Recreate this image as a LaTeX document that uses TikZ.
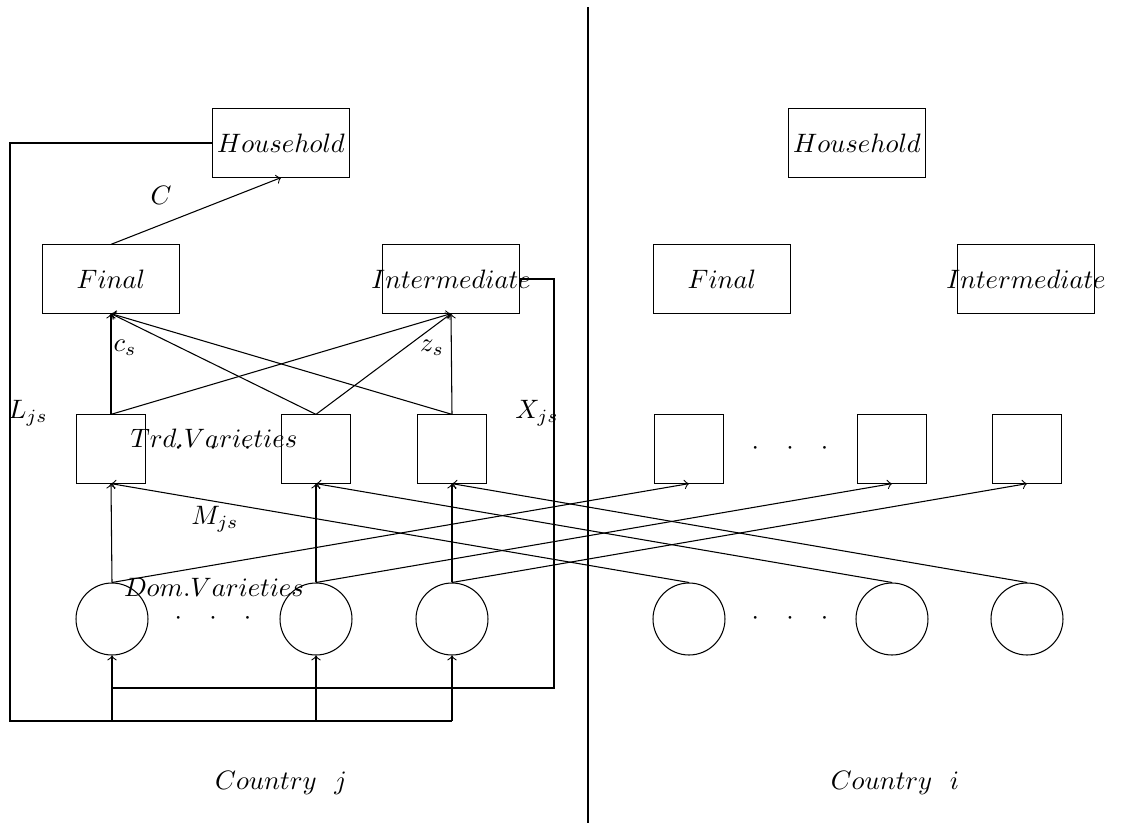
\documentclass[tikz,border=0pt]{standalone}
\newcommand{\threedots}{${\cdot}\hspace{10.2pt}{\cdot}\hspace{10.2pt}{\cdot}$}
\begin{document}
\begin{tikzpicture}[x=0.0132cm,y=-0.0132cm,>=to,
  rbox/.style={draw,minimum width=1.81cm,minimum height=0.9cm,inner sep=0pt},
  sqbox/.style={draw,minimum width=0.9cm,minimum height=0.9cm,inner sep=0pt},
  cbox/.style={draw,circle,minimum size=0.95cm,inner sep=0pt},
  lab/.style={inner sep=0pt}]
\useasboundingbox (0,0) rectangle (1127,825);
% divider
\coordinate (dtop) at (588,7);
\coordinate (dbot) at (588,823);
\draw (dtop) -- (dbot);
% country j
\node[rbox] (hj) at (281,143) {$Household$};
\node[rbox] (fj) at (111,279) {$Final$};
\node[rbox] (ij) at (451,279) {};
\node at (ij) {$Intermediate$};
\node[sqbox] (tj1) at (111,449) {};
\node[sqbox] (tj2) at (316,449) {};
\node[sqbox] (tj3) at (452,449) {};
\node[cbox] (dj1) at (112,619) {};
\node[cbox] (dj2) at (316,619) {};
\node[cbox] (dj3) at (452,619) {};
\node[lab] (tdj) at (213,449) {\threedots};
\node[lab] (ddj) at (213,619) {\threedots};
% country i
\node[rbox] (hi) at (857,143) {$Household$};
\node[rbox] (fi) at (722,279) {$Final$};
\node[rbox] (ii) at (1026,279) {};
\node at (ii) {$Intermediate$};
\node[sqbox] (ti1) at (689,449) {};
\node[sqbox] (ti2) at (892,449) {};
\node[sqbox] (ti3) at (1027,449) {};
\node[cbox] (di1) at (689,619) {};
\node[cbox] (di2) at (892,619) {};
\node[cbox] (di3) at (1027,619) {};
\node[lab] (tdi) at (790,449) {\threedots};
\node[lab] (ddi) at (790,619) {\threedots};
% connectors country j
\draw[->] (fj.north) -- (hj.south);
\foreach \t in {tj1,tj2,tj3}{
  \draw[->] (\t.north) -- (fj.south);
  \draw[->] (\t.north) -- (ij.south);
}
\draw[->] (dj1.north) -- (tj1.south);
\draw[->] (dj2.north) -- (tj2.south);
\draw[->] (dj3.north) -- (tj3.south);
% cross-country trade
\draw[->] (di1.north) -- (tj1.south);
\draw[->] (di2.north) -- (tj2.south);
\draw[->] (di3.north) -- (tj3.south);
\draw[->] (dj1.north) -- (ti1.south);
\draw[->] (dj2.north) -- (ti2.south);
\draw[->] (dj3.north) -- (ti3.south);
% labour loop
\coordinate (lcorner) at (10,721);
\draw (hj.west) -| (lcorner) -- (dj3.south |- lcorner);
\foreach \d in {dj1,dj2,dj3}{
  \draw[->] (\d.south |- lcorner) -- (\d.south);
}
% intermediate loop
\coordinate (rcorner) at (554,688);
\draw (ij.east) -| (rcorner) -- (dj1.south |- rcorner);
% labels
\node[lab] (lC) at (161,195) {$C$};
\node[lab] (lcs) at (125,348) {$c_s$};
\node[lab] (lzs) at (432,348) {$z_s$};
\node[lab] (lL) at (28,413) {$L_{js}$};
\node[lab] (lX) at (537,413) {$X_{js}$};
\node[lab] (lT) at (214,438) {$Trd.Varieties$};
\node[lab] (lM) at (215,519) {$M_{js}$};
\node[lab] (lD) at (214,587) {$Dom.Varieties$};
\node[lab] (cj) at (281,783) {$Country\ \ j$};
\node[lab] (ci) at (895,783) {$Country\ \ i$};
\end{tikzpicture}
\end{document}
